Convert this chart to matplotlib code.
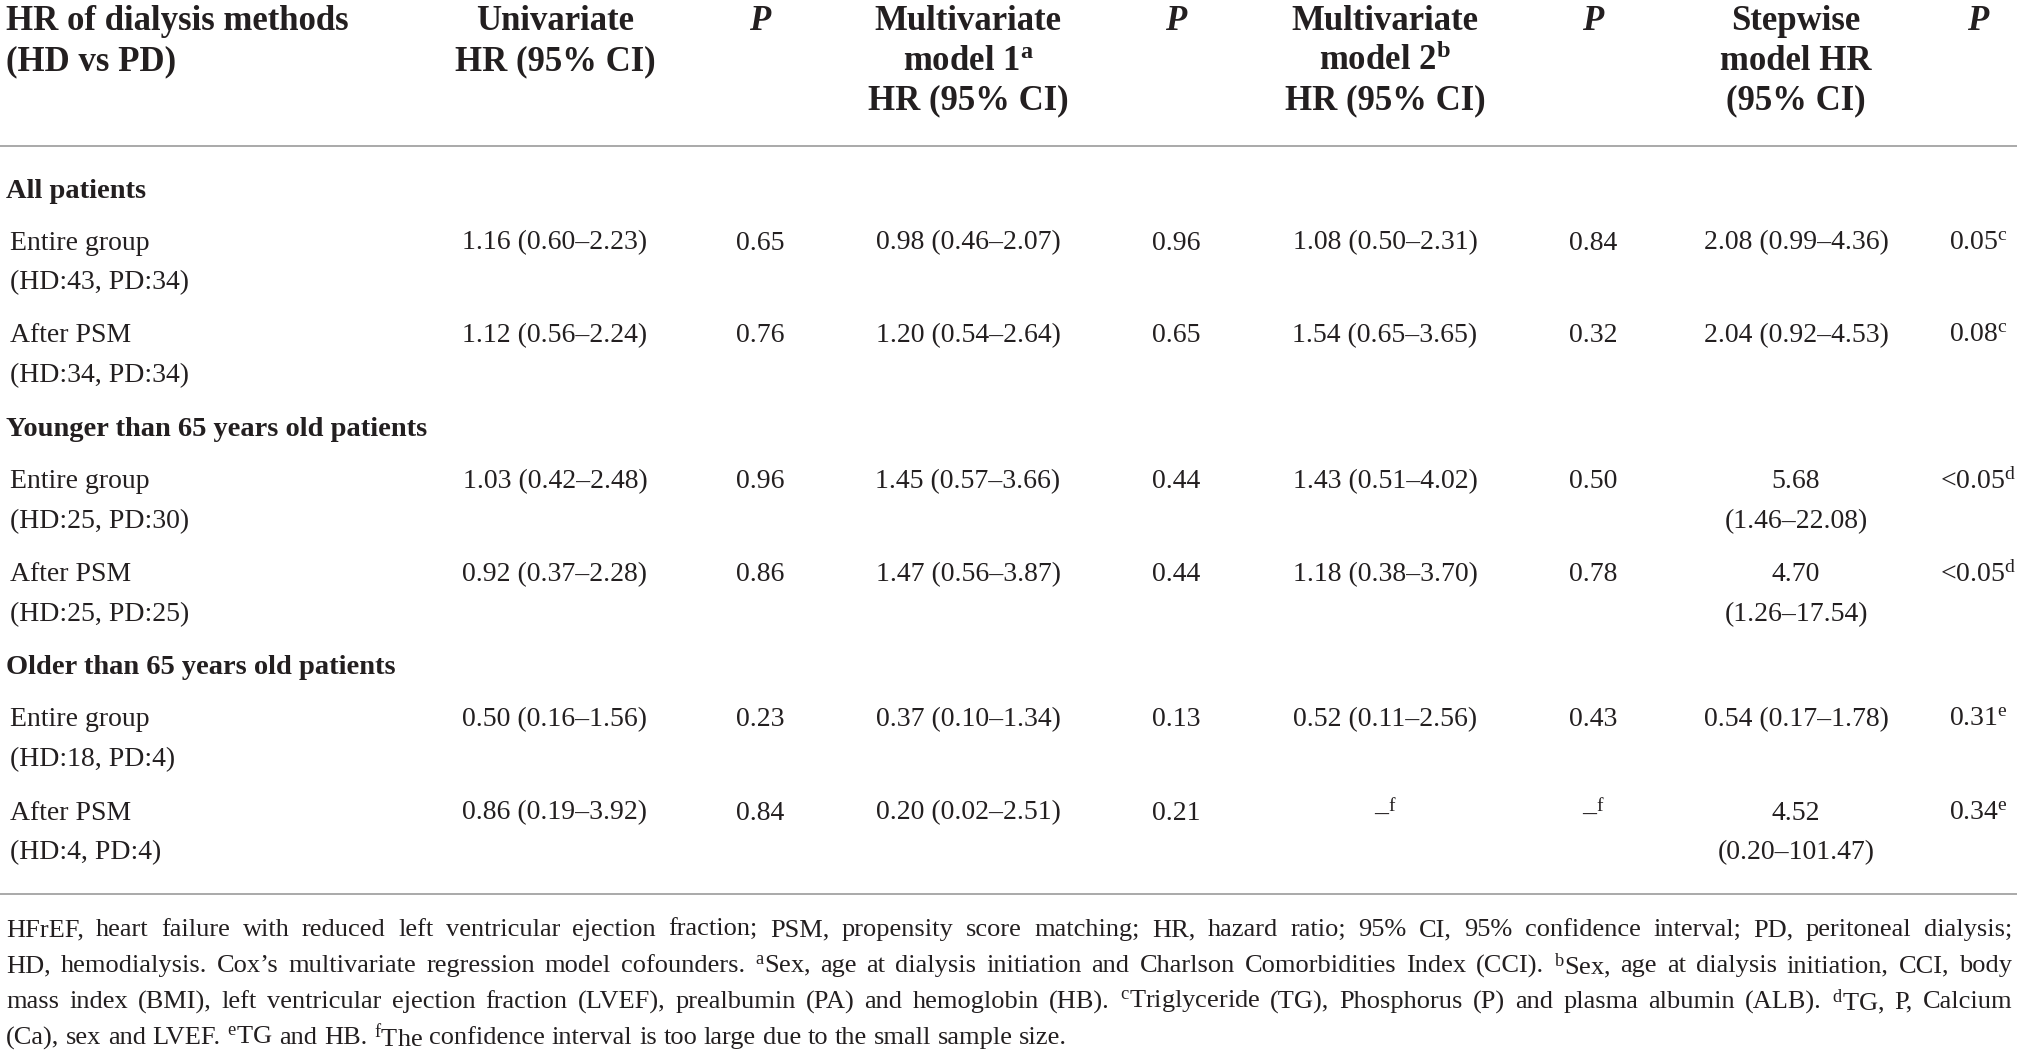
import matplotlib
matplotlib.use('Agg')
import matplotlib.pyplot as plt

plt.rcParams['font.family'] = ['Liberation Serif', 'DejaVu Serif']
plt.rcParams['mathtext.fontset'] = 'custom'
plt.rcParams['mathtext.rm'] = 'Liberation Serif'
plt.rcParams['mathtext.it'] = 'Liberation Serif:italic'
plt.rcParams['mathtext.bf'] = 'Liberation Serif:bold'

# ---- table content ----
header_cols = [
    ['HR of dialysis methods', '(HD vs PD)'],
    ['Univariate', 'HR (95% CI)'],
    ['P'],
    ['Multivariate', 'model 1$^{\\mathbf{a}}$', 'HR (95% CI)'],
    ['P'],
    ['Multivariate', 'model 2$^{\\mathbf{b}}$', 'HR (95% CI)'],
    ['P'],
    ['Stepwise', 'model HR', '(95% CI)'],
    ['P'],
]

groups = ['All patients', 'Younger than 65 years old patients', 'Older than 65 years old patients']
row_names = ['Entire group', 'After PSM']
row_counts = ['(HD:43, PD:34)', '(HD:34, PD:34)',
              '(HD:25, PD:30)', '(HD:25, PD:25)',
              '(HD:18, PD:4)', '(HD:4, PD:4)']

uni_hr = ['1.16 (0.60–2.23)', '1.12 (0.56–2.24)', '1.03 (0.42–2.48)',
          '0.92 (0.37–2.28)', '0.50 (0.16–1.56)', '0.86 (0.19–3.92)']
uni_p = ['0.65', '0.76', '0.96', '0.86', '0.23', '0.84']
m1_hr = ['0.98 (0.46–2.07)', '1.20 (0.54–2.64)', '1.45 (0.57–3.66)',
         '1.47 (0.56–3.87)', '0.37 (0.10–1.34)', '0.20 (0.02–2.51)']
m1_p = ['0.96', '0.65', '0.44', '0.44', '0.13', '0.21']
m2_hr = ['1.08 (0.50–2.31)', '1.54 (0.65–3.65)', '1.43 (0.51–4.02)',
         '1.18 (0.38–3.70)', '0.52 (0.11–2.56)', '–$^{\\mathrm{f}}$']
m2_p = ['0.84', '0.32', '0.50', '0.78', '0.43', '–$^{\\mathrm{f}}$']
sw_hr = ['2.08 (0.99–4.36)', '2.04 (0.92–4.53)', '5.68\n(1.46–22.08)',
         '4.70\n(1.26–17.54)', '0.54 (0.17–1.78)', '4.52\n(0.20–101.47)']
sw_p = ['0.05$^{\\mathrm{c}}$', '0.08$^{\\mathrm{c}}$', '<0.05$^{\\mathrm{d}}$',
        '<0.05$^{\\mathrm{d}}$', '0.31$^{\\mathrm{e}}$', '0.34$^{\\mathrm{e}}$']

footnote = [
    "HFrEF, heart failure with reduced left ventricular ejection fraction; PSM, propensity score matching; HR, hazard ratio; 95% CI, 95% confidence interval; PD, peritoneal dialysis;",
    "HD, hemodialysis. Cox’s multivariate regression model cofounders. $^{\\mathrm{a}}$Sex, age at dialysis initiation and Charlson Comorbidities Index (CCI). $^{\\mathrm{b}}$Sex, age at dialysis initiation, CCI, body",
    "mass index (BMI), left ventricular ejection fraction (LVEF), prealbumin (PA) and hemoglobin (HB). $^{\\mathrm{c}}$Triglyceride (TG), Phosphorus (P) and plasma albumin (ALB). $^{\\mathrm{d}}$TG, P, Calcium",
    "(Ca), sex and LVEF. $^{\\mathrm{e}}$TG and HB. $^{\\mathrm{f}}$The confidence interval is too large due to the small sample size.",
]

# ---- layout ----
W, H = 2026, 1060
col_x = [6, 555, 760, 968, 1176, 1385, 1593, 1796, 1978]
txt = '#231f20'
rule = '#9b9b9b'
fs_head, fs_body, fs_group, fs_foot = 25, 20, 20.5, 19
line_gap = 40

fig = plt.figure(figsize=(W / 100, H / 100), dpi=100, facecolor='white')
ax = fig.add_axes([0, 0, 1, 1])
ax.set_xlim(0, W)
ax.set_ylim(H, 0)
ax.axis('off')

# header
for i, lines in enumerate(header_cols):
    for j, s in enumerate(lines):
        y = 22 + j * 39.5
        if s == 'P':
            ax.text(col_x[i], y, s, ha='center', va='center', fontsize=fs_head,
                    fontweight='bold', fontstyle='italic', color=txt)
        else:
            ax.text(col_x[i], y, s, ha='left' if i == 0 else 'center', va='center',
                    fontsize=fs_head, fontweight='bold', color=txt)

ax.plot([0, 2017], [146, 146], color=rule, lw=1.2, solid_capstyle='butt')
ax.plot([0, 2017], [894, 894], color=rule, lw=1.2, solid_capstyle='butt')

values = [uni_hr, uni_p, m1_hr, m1_p, m2_hr, m2_p, sw_hr, sw_p]
y = 191
k = 0
for g in groups:
    ax.text(6, y, g, ha='left', va='center', fontsize=fs_group, fontweight='bold', color=txt)
    ry = y + 52
    for name in row_names:
        ax.text(10, ry, name, ha='left', va='center', fontsize=fs_body, color=txt)
        ax.text(10, ry + line_gap, row_counts[k], ha='left', va='center', fontsize=fs_body, color=txt)
        for c, col in enumerate(values):
            for j, part in enumerate(col[k].split('\n')):
                ax.text(col_x[c + 1], ry + j * line_gap, part, ha='center', va='center',
                        fontsize=fs_body, color=txt)
        k += 1
        ry += 93
    y += 238.5

# footnote, justified like the journal layout
fig.canvas.draw()
renderer = fig.canvas.get_renderer()
left, right = 6, 2012
min_gap = 5

word_objs = []
fy = 930
for line in footnote:
    objs = [ax.text(0, fy, w, ha='left', va='center', fontsize=fs_foot, color=txt)
            for w in line.split(' ')]
    word_objs.append(objs)
    fy += 36

# shrink the footnote font a bit if a justified line would not fit
scale = 1.0
for objs in word_objs[:-1]:
    total = sum(o.get_window_extent(renderer).width for o in objs)
    avail = right - left - (len(objs) - 1) * min_gap
    scale = min(scale, avail / total)
for objs in word_objs:
    for o in objs:
        o.set_fontsize(fs_foot * scale)

space_w = fs_foot * scale * 100 / 72 * 0.25
for n, objs in enumerate(word_objs):
    widths = [o.get_window_extent(renderer).width for o in objs]
    if n == len(word_objs) - 1:
        gap = space_w
    else:
        gap = (right - left - sum(widths)) / (len(objs) - 1)
    x = left
    for o, w in zip(objs, widths):
        o.set_x(x)
        x += w + gap

fig.savefig('out.png', dpi=100, facecolor='white')
